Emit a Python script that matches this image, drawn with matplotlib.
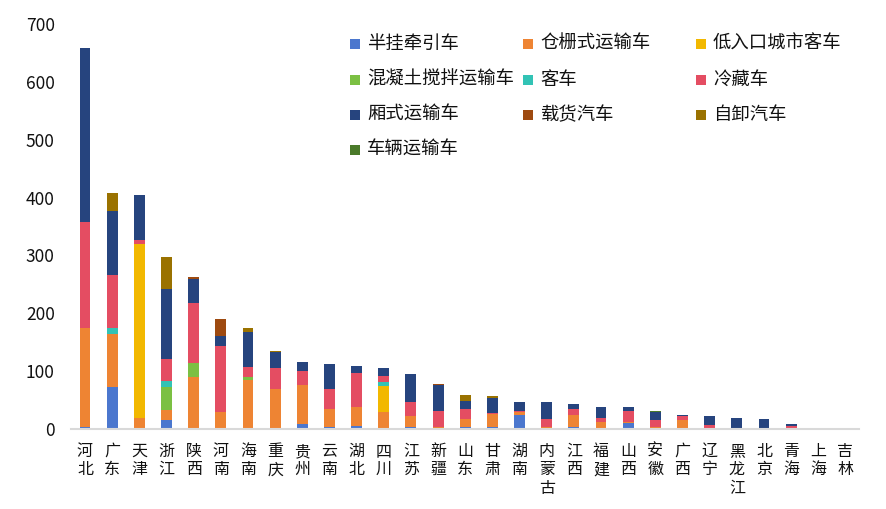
import matplotlib
matplotlib.use("Agg")
import matplotlib.pyplot as plt
import numpy as np
from matplotlib.patches import Rectangle

plt.rcParams['font.family'] = ['Noto Sans CJK SC', 'DejaVu Sans']

provinces = ["河北", "广东", "天津", "浙江", "陕西", "河南", "海南", "重庆", "贵州", "云南",
             "湖北", "四川", "江苏", "新疆", "山东", "甘肃", "湖南", "内蒙古", "江西", "福建",
             "山西", "安徽", "广西", "辽宁", "黑龙江", "北京", "青海", "上海", "吉林"]

series_names = ["半挂牵引车", "仓栅式运输车", "低入口城市客车", "混凝土搅拌运输车", "客车",
                "冷藏车", "厢式运输车", "载货汽车", "自卸汽车", "车辆运输车"]
colors = ["#4B77CE", "#EE8433", "#F2B800", "#7BC043", "#32C3B5",
          "#E44D62", "#26447E", "#9E4A10", "#9A7200", "#4A7A2A"]

semi_trailer = [4, 73, 0, 16, 0, 0, 2, 2, 9, 4, 5, 0, 3, 0, 4, 3, 24, 2, 3, 0, 10, 0, 0, 0, 0, 0, 0, 2, 0]
stake_truck = [171, 92, 19, 17, 90, 30, 82, 67, 67, 30, 33, 29, 19, 4, 13, 23, 5, 2, 21, 12, 2, 3, 15, 2, 0, 0, 1, 0, 0]
low_entry_bus = [0, 0, 300, 0, 0, 0, 0, 0, 0, 0, 0, 45, 0, 0, 0, 0, 0, 0, 0, 0, 0, 0, 0, 0, 0, 0, 0, 0, 0]
mixer = [0, 0, 0, 40, 24, 0, 6, 0, 0, 0, 0, 0, 0, 0, 0, 0, 0, 0, 0, 0, 0, 0, 0, 0, 0, 0, 0, 0, 0]
bus = [0, 9, 0, 10, 0, 0, 0, 0, 0, 0, 0, 7, 0, 0, 0, 0, 0, 0, 0, 0, 0, 0, 0, 0, 0, 0, 0, 0, 0]
refrigerated = [183, 92, 7, 38, 104, 114, 18, 36, 24, 35, 59, 11, 24, 27, 18, 1, 2, 13, 10, 7, 19, 12, 7, 5, 0, 0, 5, 0, 0]
van = [300, 111, 79, 121, 41, 17, 59, 29, 16, 43, 12, 13, 50, 45, 13, 27, 15, 30, 10, 19, 7, 14, 2, 15, 20, 17, 3, 0, 2]
cargo_truck = [0, 0, 0, 0, 3, 29, 0, 0, 0, 0, 0, 0, 0, 2, 0, 0, 0, 0, 0, 0, 0, 0, 0, 0, 0, 0, 0, 0, 0]
dump_truck = [0, 31, 0, 55, 0, 0, 7, 1, 0, 0, 0, 0, 0, 0, 11, 3, 0, 0, 0, 0, 0, 1, 0, 0, 0, 0, 0, 0, 0]
car_carrier = [0, 0, 0, 0, 0, 0, 0, 0, 0, 0, 0, 0, 0, 0, 0, 0, 0, 0, 0, 0, 0, 2, 0, 0, 0, 0, 0, 0, 0]

values = [semi_trailer, stake_truck, low_entry_bus, mixer, bus,
          refrigerated, van, cargo_truck, dump_truck, car_carrier]

fig = plt.figure(figsize=(8.86, 5.09), dpi=100)
ax = fig.add_axes([0.0806, 0.157, 0.889, 0.796])

x = np.arange(len(provinces))
bottom = np.zeros(len(provinces))
for name, vals, c in zip(series_names, values, colors):
    v = np.array(vals, dtype=float)
    ax.bar(x, v, 0.4, bottom=bottom, color=c, label=name, linewidth=0)
    bottom += v

ax.set_xlim(-0.5, len(provinces) - 0.5)
ax.set_ylim(0, 700)
ax.set_yticks(range(0, 701, 100))
ax.set_xticks(x)
ax.set_xticklabels(["\n".join(p) for p in provinces], fontsize=11.5, linespacing=1.1,
                   va="top", color="#111111")
ax.tick_params(axis="x", length=0, pad=10)
ax.tick_params(axis="y", length=0, pad=12, labelsize=12.5, labelcolor="#111111")
for s in ["top", "right", "left"]:
    ax.spines[s].set_visible(False)
ax.spines["bottom"].set_color("#D9D9D9")
ax.spines["bottom"].set_linewidth(1.5)

# legend laid out like the spreadsheet one: 3 fixed-width columns
W, H = 886, 509
col_x = [350, 523, 696]
row_y = [44, 80, 115, 150]
for i, (name, c) in enumerate(zip(series_names, colors)):
    px = col_x[i % 3]
    py = row_y[i // 3]
    fig.patches.append(Rectangle((px / W, 1 - (py + 5) / H), 10 / W, 10 / H,
                                 transform=fig.transFigure, color=c, linewidth=0))
    fig.text((px + 17) / W, 1 - py / H, name, fontsize=13.2, va="center", ha="left",
             color="#111111")

fig.savefig("out.png", dpi=100)
